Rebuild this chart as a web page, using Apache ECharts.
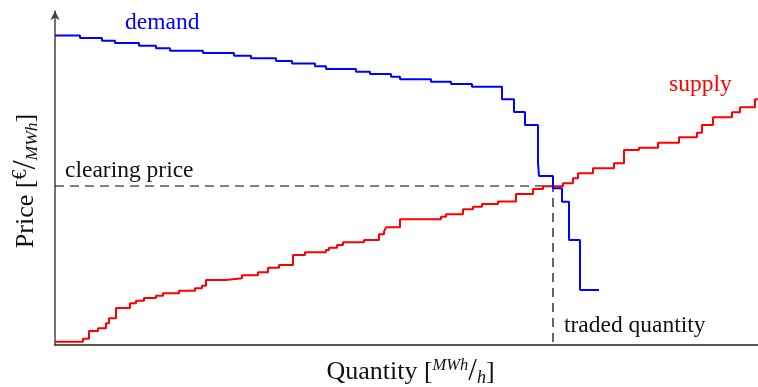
<!DOCTYPE html>
<html>
<head>
<meta charset="utf-8">
<script src="https://cdn.jsdelivr.net/npm/echarts@6/dist/echarts.min.js"></script>
<style>
  html, body { margin: 0; padding: 0; background: #fff; }
  #chart { width: 758px; height: 387px; }
</style>
</head>
<body>
<div id="chart"></div>
<script>
// bid curve (start quantity of each step, price of the step)
const demandQty = [0, 25, 47, 60, 84, 101, 115, 148, 179, 196, 221, 237, 260, 271, 301, 315, 336, 345, 376, 396, 417, 447, 459, 470, 483, 484, 498, 507, 514, 525, 544]
const demandPrice = [309.5, 307, 304.3, 302, 299.3, 296.7, 294.3, 292, 289.3, 286.7, 284, 281.5, 278.7, 276, 273.3, 271, 268.3, 265.7, 263.3, 261, 258.3, 245.7, 233, 220, 182, 169, 156.7, 143.3, 105, 55, 55]

// offer curve
const supplyQty = [0, 28, 34, 43, 51, 54, 61, 75, 81, 89, 101, 108, 124, 140, 147, 151, 171, 187, 203, 213, 224, 238, 250, 271, 274, 282, 288, 309, 324, 329, 331, 345, 386, 391, 408, 418, 427, 443, 461, 478, 488, 508, 518, 523, 538, 559, 569, 584, 603, 624, 642, 647, 658, 677, 685, 700, 703]
const supplyPrice = [3.3, 6.3, 14, 16.7, 21.7, 26.7, 37, 41.7, 44.3, 47, 49.3, 51.7, 54.3, 56.7, 59.3, 65, 66.7, 69.7, 72.7, 77.3, 80, 90, 92.7, 95, 97.3, 100, 102.7, 105, 110.7, 113.3, 117.7, 125.7, 128.3, 130.7, 135.7, 138.3, 141, 143.5, 151, 156, 158.7, 161.7, 166.7, 171.7, 176.7, 181.7, 195, 197.3, 202.3, 207.7, 212.3, 220, 227.7, 232.7, 237.7, 245.7, 245.7]

const clearingQty = 498
const clearingPrice = 159

const serif = '"Liberation Serif", "DejaVu Serif", serif'
const labelFont = '23.5px ' + serif

const chart = echarts.init(document.getElementById('chart'))

const option = {
  animation: false,
  grid: { left: 55, right: 0, top: 11, bottom: 42, containLabel: false, outerBoundsMode: 'none' },
  xAxis: {
    type: 'value',
    min: 0,
    max: 703,
    axisLine: { show: true, lineStyle: { color: '#222', width: 1.5 } },
    axisTick: { show: false },
    axisLabel: { show: false },
    splitLine: { show: false },
    name: '{a|Quantity [}{sup|MWh}{sl|/}{sub|h}{a|]}',
    nameLocation: 'middle',
    nameGap: 12,
    nameTextStyle: {
      padding: [0, 0, 0, 8],
      rich: {
        a: { fontFamily: serif, fontSize: 26, color: '#111', lineHeight: 30, verticalAlign: 'middle' },
        sup: { fontFamily: serif, fontSize: 16.5, fontStyle: 'italic', color: '#111', verticalAlign: 'top', lineHeight: 30 },
        sl: { fontFamily: serif, fontSize: 31, color: '#111', lineHeight: 30, verticalAlign: 'middle' },
        sub: { fontFamily: serif, fontSize: 18, fontStyle: 'italic', color: '#111', verticalAlign: 'bottom', lineHeight: 30 },
      },
    },
  },
  yAxis: {
    type: 'value',
    min: 0,
    max: 334,
    axisLine: {
      show: true,
      symbol: ['none', 'arrow'],
      symbolSize: [7, 9],
      lineStyle: { color: '#444', width: 1.5 },
    },
    axisTick: { show: false },
    axisLabel: { show: false },
    splitLine: { show: false },
    name: '{a|Price [}{sup|€}{sl|/}{sub|MWh}{a|]}',
    nameLocation: 'middle',
    nameRotate: 90,
    nameGap: 14,
    nameTextStyle: {
      padding: [0, 6, 0, 0],
      rich: {
        a: { fontFamily: serif, fontSize: 26, color: '#111', lineHeight: 30, verticalAlign: 'middle' },
        sup: { fontFamily: serif, fontSize: 20, color: '#111', verticalAlign: 'top', lineHeight: 30 },
        sl: { fontFamily: serif, fontSize: 33, color: '#111', lineHeight: 30, verticalAlign: 'middle' },
        sub: { fontFamily: serif, fontSize: 17.5, fontStyle: 'italic', color: '#111', verticalAlign: 'bottom', lineHeight: 30 },
      },
    },
  },
  series: [
    {
      name: 'clearing',
      type: 'line',
      data: [[0, clearingPrice], [clearingQty, clearingPrice], [clearingQty, 0]],
      symbol: 'none',
      lineStyle: { color: '#000', width: 1.2, type: [9, 6] },
      z: 1,
    },
    {
      name: 'supply',
      type: 'line',
      step: 'end',
      data: supplyQty.map((q, i) => [q, supplyPrice[i]]),
      symbol: 'none',
      lineStyle: { color: '#ff0000', width: 2 },
      z: 2,
    },
    {
      name: 'demand',
      type: 'line',
      step: 'end',
      data: demandQty.map((q, i) => [q, demandPrice[i]]),
      symbol: 'none',
      lineStyle: { color: '#0000ff', width: 2 },
      z: 3,
    },
  ],
  graphic: [
    { type: 'text', left: 125, top: 11, style: { text: 'demand', fill: '#0000ff', font: labelFont } },
    { type: 'text', left: 669, top: 73, style: { text: 'supply', fill: '#ff0000', font: labelFont } },
    { type: 'text', left: 65, top: 159, style: { text: 'clearing price', fill: '#111', font: labelFont } },
    { type: 'text', left: 564, top: 314, style: { text: 'traded quantity', fill: '#111', font: labelFont } },
  ],
}

chart.setOption(option)
</script>
</body>
</html>
